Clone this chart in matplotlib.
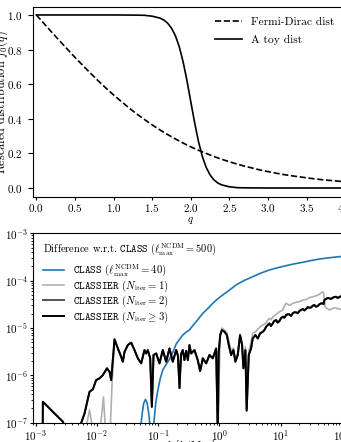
import matplotlib

matplotlib.use("Agg")
import matplotlib.pyplot as plt
import numpy as np
from matplotlib.ticker import MultipleLocator

# --- top panel: rescaled distribution functions ---
q_fd = [0.0, 0.1, 0.2, 0.3, 0.4, 0.5, 0.6, 0.7, 0.8, 0.9, 1.0, 1.1, 1.2, 1.3,
        1.4, 1.5, 1.6, 1.7, 1.8, 1.9, 2.0, 2.1, 2.2, 2.3, 2.4, 2.5, 2.6, 2.7,
        2.8, 2.9, 3.0, 3.1, 3.2, 3.3, 3.4, 3.5, 3.6, 3.7, 3.8, 3.9, 4.0, 4.1]
f_fd = [1.000, 0.950, 0.900, 0.851, 0.803, 0.755, 0.709, 0.664, 0.620, 0.578,
        0.538, 0.500, 0.463, 0.428, 0.396, 0.365, 0.336, 0.309, 0.284, 0.260,
        0.238, 0.218, 0.200, 0.182, 0.166, 0.152, 0.138, 0.126, 0.115, 0.104,
        0.095, 0.086, 0.078, 0.071, 0.065, 0.059, 0.053, 0.048, 0.044, 0.040,
        0.036, 0.033]

q_toy = [0.0, 0.5, 1.0, 1.3, 1.4, 1.5, 1.6, 1.65, 1.7, 1.75, 1.8, 1.85, 1.9,
         1.95, 2.0, 2.05, 2.1, 2.15, 2.2, 2.25, 2.3, 2.35, 2.4, 2.5, 2.6, 2.7,
         3.0, 4.1]
f_toy = [1.0, 1.0, 1.0, 0.999, 0.998, 0.993, 0.982, 0.971, 0.953, 0.924, 0.881,
         0.818, 0.731, 0.623, 0.500, 0.378, 0.269, 0.182, 0.119, 0.076, 0.047,
         0.029, 0.018, 0.007, 0.002, 0.001, 0.0, 0.0]

# --- bottom panel: relative difference w.r.t. CLASS (l_max = 500) ---
k_class = [0.0519, 0.0550, 0.0582, 0.0621, 0.0661, 0.0700, 0.0733, 0.0759,
           0.0794, 0.0822, 0.0851, 0.0912, 0.0989, 0.108, 0.119, 0.135, 0.153,
           0.174, 0.197, 0.224, 0.252, 0.288, 0.324, 0.363, 0.417, 0.535, 0.65,
           0.778, 0.93, 1.13, 1.45, 1.87, 2.5, 3.49, 4.7, 6.53, 9.0, 12.2, 16.5,
           22.9, 31.0, 42.7, 60.0, 90.6, 141]
d_class = [8e-8, 1.6e-7, 2.6e-7, 3.1e-7, 2.6e-7, 1.6e-7, 9e-8, 3e-8, 1e-9,
           3e-8, 1e-7, 2.6e-7, 4.9e-7, 8.5e-7, 1.3e-6, 1.7e-6, 2.2e-6, 3.1e-6,
           4.6e-6, 5.8e-6, 7.1e-6, 8.2e-6, 9.1e-6, 1.1e-5, 1.36e-5, 2.04e-5,
           2.6e-5, 3.32e-5, 4.1e-5, 4.97e-5, 6.3e-5, 8.1e-5, 1.0e-4, 1.21e-4,
           1.44e-4, 1.68e-4, 1.88e-4, 2.07e-4, 2.26e-4, 2.44e-4, 2.65e-4,
           2.86e-4, 3.03e-4, 3.21e-4, 3.4e-4]

# converged CLASSIER (N_iter = 2 and N_iter >= 3 coincide)
k_conv = [1.30e-3, 1.315e-3, 1.91e-3, 2.79e-3, 3.0e-3, 4.5e-3, 5.4e-3, 5.56e-3,
          6.29e-3, 7.58e-3, 8.59e-3, 9.73e-3, 1.10e-2, 1.25e-2, 1.46e-2,
          1.61e-2, 1.71e-2, 1.94e-2, 2.20e-2, 2.49e-2, 2.65e-2, 2.83e-2,
          3.20e-2, 3.63e-2, 4.11e-2, 4.66e-2, 5.28e-2, 5.98e-2, 6.37e-2,
          6.78e-2, 7.41e-2, 7.89e-2, 8.40e-2, 9.29e-2, 0.105, 0.119, 0.135,
          0.153, 0.173, 0.197, 0.210, 0.223, 0.236, 0.252, 0.268, 0.286, 0.305,
          0.324, 0.345, 0.391, 0.443, 0.484, 0.535, 0.607, 0.687, 0.778, 0.883,
          0.940, 0.970, 1.03, 1.10, 1.21, 1.32, 1.42, 1.55, 1.69, 1.82, 1.99,
          2.17, 2.34, 2.46, 2.65, 2.78, 3.01, 3.28, 3.49, 3.86, 4.22, 4.60,
          5.08, 5.4, 5.77, 6.1, 6.53, 6.9, 7.41, 7.8, 8.39, 8.9, 9.51, 10.1,
          10.8, 11.5, 12.2, 13.0, 13.8, 14.7, 15.7, 16.7, 17.8, 19.0, 20.1,
          21.5, 22.9, 24.3, 25.9, 27.5, 29.3, 31.2, 33.3, 35.5, 37.7, 40.0,
          42.7, 45.5, 48.4, 50.0, 51.5, 54.8, 58.0, 62.2, 66.0, 70.5, 75.0,
          79.8, 85.0, 90.6, 100, 110, 125, 141]
d_conv = [3e-8, 2.77e-7, 1.7e-7, 1.05e-7, 8e-8, 3e-8, 8e-8, 1.0e-7, 1.57e-7,
          4.5e-7, 5.06e-7, 7.94e-7, 8.63e-7, 1.01e-6, 1.41e-6, 1.19e-6, 7.9e-7,
          5.75e-6, 3.7e-6, 2.47e-6, 1.94e-6, 3.16e-6, 4.37e-6, 4.9e-6, 3.42e-6,
          2.29e-6, 1.79e-6, 3.42e-6, 2.9e-6, 3.4e-6, 2.3e-6, 2.17e-7, 2.69e-6,
          2.9e-6, 1.79e-6, 3.42e-6, 1.94e-6, 3.7e-6, 1.94e-6, 3.42e-6, 2.6e-6,
          5.4e-7, 2.8e-6, 3.42e-6, 2.1e-6, 3.3e-6, 2.1e-6, 4.37e-6, 2.9e-6,
          3.42e-6, 2.1e-6, 1.23e-6, 2.29e-6, 1.79e-6, 2.69e-6, 2.29e-6, 3.7e-6,
          5e-8, 3.0e-6, 7.1e-6, 9.06e-6, 8.3e-6, 7.1e-6, 4.37e-6, 2.69e-6,
          3.42e-6, 1.94e-6, 2.69e-6, 7.1e-6, 4.37e-6, 1.41e-6, 3.4e-6, 1.8e-7,
          2.7e-6, 3.7e-6, 6.0e-6, 7.1e-6, 6.0e-6, 7.7e-6, 8.3e-6, 9.0e-6,
          1.06e-5, 1.15e-5, 1.25e-5, 1.1e-5, 1.25e-5, 1.4e-5, 1.47e-5, 1.3e-5,
          1.40e-5, 1.62e-5, 1.73e-5, 1.65e-5, 1.88e-5, 1.95e-5, 1.94e-5,
          1.8e-5, 2.04e-5, 2.15e-5, 2.14e-5, 2.05e-5, 2.28e-5, 2.4e-5, 2.52e-5,
          2.35e-5, 2.52e-5, 2.75e-5, 2.68e-5, 2.7e-5, 2.96e-5, 3.05e-5, 2.82e-5,
          2.9e-5, 3.16e-5, 3.3e-5, 3.32e-5, 3.2e-5, 3.9e-5, 4.09e-5, 4.3e-5,
          4.24e-5, 4.1e-5, 4.36e-5, 4.5e-5, 4.57e-5, 4.3e-5, 4.51e-5, 4.8e-5,
          4.7e-5, 4.5e-5, 4.6e-5]

# N_iter = 1 departs from the converged curve at low and high k
k_iter1_lo = [5.8e-3, 6.9e-3, 7.58e-3, 8.2e-3, 9.0e-3, 1.08e-2, 1.18e-2,
              1.28e-2, 1.36e-2, 1.45e-2, 1.58e-2, 1.67e-2, 1.76e-2]
d_iter1_lo = [3e-8, 1e-7, 1.86e-7, 1e-7, 3e-8, 5e-8, 1.2e-7, 3.5e-7, 1e-7,
              3e-8, 5e-8, 1e-7, 6e-7]
k_iter1_hi = [1.03, 1.10, 1.21, 1.32, 1.42, 1.55, 1.69, 1.82, 1.99, 2.17, 2.34,
              2.46, 2.65, 2.78, 3.01, 3.28, 3.49, 3.86, 4.60, 5.08, 5.4, 5.77,
              6.1, 6.53, 7.0, 7.41, 8.39, 9.5, 10.8, 11.5, 12.2, 14.0, 15.7,
              18.0, 20.1, 22.9, 26.0, 29.3, 33.3, 38.0, 42.7, 45.5, 48.4, 50.2,
              52.8, 57.0, 62.2, 66.0, 70.5, 79.8, 85.0, 90.6, 110, 141]
d_iter1_hi = [7.6e-6, 1.0e-5, 9.0e-6, 8.0e-6, 5.5e-6, 3.2e-6, 3.8e-6, 2.3e-6,
              3.0e-6, 7.0e-6, 5.0e-6, 1.6e-6, 4.0e-6, 3e-7, 3.2e-6, 5e-6, 7.7e-6,
              8.3e-6, 1.06e-5, 1.15e-5, 1.2e-5, 1.3e-5, 1.45e-5, 1.6e-5, 1.5e-5,
              1.7e-5, 1.94e-5, 2.2e-5, 2.39e-5, 2.9e-5, 3.32e-5, 3.0e-5, 3.32e-5,
              3.5e-5, 3.6e-5, 3.9e-5, 4.0e-5, 4.36e-5, 4.57e-5, 4.8e-5, 5.14e-5,
              5.5e-5, 5.85e-5, 5.3e-5, 2.82e-5, 2.6e-5, 2.39e-5, 2.5e-5, 2.6e-5,
              2.68e-5, 2.55e-5, 2.52e-5, 2.45e-5, 2.5e-5]

plt.rcParams.update({
    "font.family": "serif",
    "font.serif": ["cmr10"],
    "mathtext.fontset": "cm",
    "axes.formatter.use_mathtext": True,
    "font.size": 8,
    "axes.unicode_minus": False,
})

W, H, DPI = 341, 442, 100
L, R = 32.5, 349.0  # axes edges in pixels (right edge is off-canvas)


def _rect(top, bottom):
    return [L / W, 1 - bottom / H, (R - L) / W, (bottom - top) / H]


def plot_distributions(ax):
    ax.plot(q_fd, f_fd, "k--", lw=1.2, label="Fermi-Dirac dist")
    ax.plot(q_toy, f_toy, "k-", lw=1.2, label="A toy dist")
    ax.set_xlim(-0.05, 4.05)
    ax.set_ylim(-0.052, 1.046)
    ax.xaxis.set_major_locator(MultipleLocator(0.5))
    ax.yaxis.set_major_locator(MultipleLocator(0.2))
    ax.tick_params(axis="x", length=2.5, pad=1.0)
    ax.set_xlabel("$q$", labelpad=0.5)
    ax.set_ylabel("Rescaled distribution $f_0(q)$", fontsize=8.8)
    ax.yaxis.set_label_coords(-0.071, 0.5)
    ax.legend(loc="upper left", bbox_to_anchor=(0.563, 0.97), frameon=False,
              borderaxespad=0, handlelength=2.3, labelspacing=0.62,
              fontsize=8.3)


def plot_differences(ax):
    k_conv_a = np.array(k_conv)
    d_conv_a = np.array(d_conv)
    mid = (k_conv_a >= 1.9e-2) & (k_conv_a <= 0.95)
    k_iter1 = np.concatenate([k_iter1_lo, k_conv_a[mid], k_iter1_hi])
    d_iter1 = np.concatenate([d_iter1_lo, d_conv_a[mid], d_iter1_hi])

    ax.plot(k_class, d_class, color="#1f77b4", lw=1.2,
            label=r"$\mathtt{CLASS}$ ($\ell_\mathrm{max}^\mathrm{NCDM} = 40$)")
    ax.plot(k_iter1, d_iter1, color="#b0b0b0", lw=1.2,
            label=r"$\mathtt{CLASSIER}$ ($N_\mathrm{iter} = 1$)")
    ax.plot(k_conv_a, d_conv_a, color="#555555", lw=1.4,
            label=r"$\mathtt{CLASSIER}$ ($N_\mathrm{iter} = 2$)")
    ax.plot(k_conv_a, d_conv_a, color="black", lw=1.4,
            label=r"$\mathtt{CLASSIER}$ ($N_\mathrm{iter} \geq 3$)")
    ax.set_xscale("log")
    ax.set_yscale("log")
    ax.set_xlim(8.9e-4, 130)
    ax.set_ylim(1e-7, 1e-3)
    ax.tick_params(which="both", length=2.5, pad=1.5)
    ax.tick_params(which="minor", length=1.5)
    ax.tick_params(axis="y", pad=0.5)
    ax.set_xlabel("$k$ [$h$/Mpc]")
    ax.xaxis.set_label_coords(0.5, -0.08)
    ax.set_ylabel(r"Relative difference $|\Delta P / P|$")
    ax.yaxis.set_label_coords(-0.093, 0.5)
    leg = ax.legend(loc="upper left", bbox_to_anchor=(0.02, 0.981),
                    frameon=False, borderaxespad=0, fontsize=7.7,
                    labelspacing=0.0,
                    title=r"Difference w.r.t. $\mathtt{CLASS}$ "
                          r"($\ell_\mathrm{max}^\mathrm{NCDM} = 500$)",
                    title_fontsize=7.5, alignment="left")
    # tight rows, but keep the usual gap under the title (in points)
    leg._legend_box.sep = 4.0


def main():
    fig = plt.figure(figsize=(W / DPI, H / DPI), dpi=DPI)
    plot_distributions(fig.add_axes(_rect(7, 197)))
    plot_differences(fig.add_axes(_rect(233.3, 422.7)))
    fig.savefig("out.png", dpi=DPI)
    plt.close(fig)


if __name__ == "__main__":
    main()
